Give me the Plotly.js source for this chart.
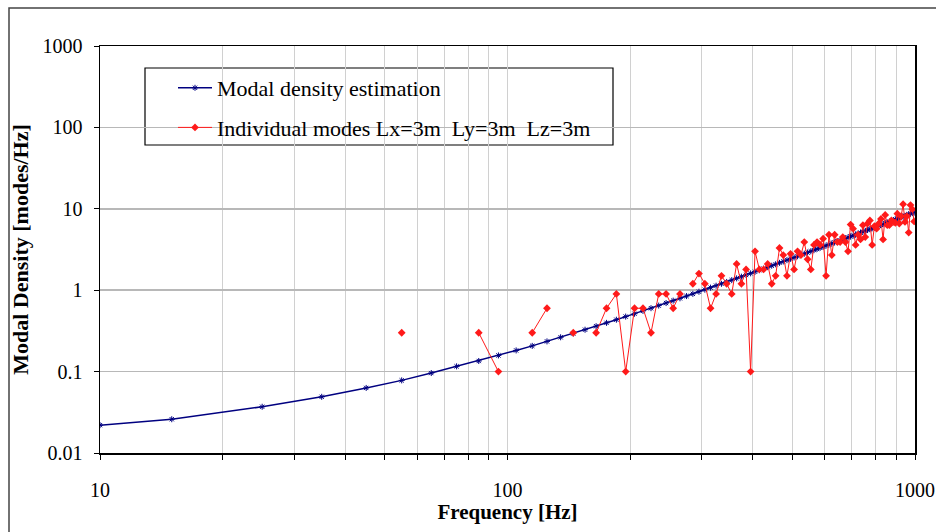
<!DOCTYPE html>
<html>
<head>
<meta charset="utf-8">
<script src="https://cdn.plot.ly/plotly-3.0.1.min.js"></script>
<style>html,body{margin:0;padding:0;background:#fff;}#chart{width:936px;height:532px;}</style>
</head>
<body>
<div id="chart"></div>
<script>
// Modal density estimation (blue)
var estFreq = [10,15,25,35,45,55,65,75,85,95,105,115,125,135,145,155,165,175,185,195,205,215,225,235,245,255,265,275,285,295,305,315,325,335,345,355,365,375,385,395,405,415,425,435,445,455,465,475,485,495,505,515,525,535,545,555,565,575,585,595,605,615,625,635,645,655,665,675,685,695,705,715,725,735,745,755,765,775,785,795,805,815,825,835,845,855,865,875,885,895,905,915,925,935,945,955,965,975,985,995];
var estDensity = [0.022,0.026,0.037,0.049,0.063,0.078,0.096,0.116,0.135,0.158,0.182,0.207,0.235,0.264,0.294,0.327,0.361,0.397,0.434,0.474,0.514,0.557,0.601,0.647,0.695,0.744,0.795,0.847,0.902,0.958,1.015,1.075,1.136,1.198,1.263,1.329,1.397,1.466,1.537,1.61,1.685,1.761,1.839,1.918,1.999,2.082,2.167,2.253,2.341,2.431,2.522,2.615,2.71,2.806,2.904,3.004,3.105,3.208,3.313,3.42,3.528,3.638,3.749,3.862,3.977,4.094,4.212,4.332,4.453,4.576,4.701,4.828,4.956,5.086,5.218,5.351,5.486,5.623,5.761,5.902,6.043,6.187,6.332,6.479,6.627,6.777,6.929,7.083,7.238,7.395,7.554,7.714,7.876,8.039,8.205,8.372,8.54,8.711,8.883,9.057];

// Individual modes (red), null where the band holds no mode
var modeFreq = [55,65,75,85,95,105,115,125,135,145,155,165,175,185,195,205,215,225,235,245,255,265,275,285,295,305,315,325,335,345,355,365,375,385,395,405,415,425,435,445,455,465,475,485,495,505,515,525,535,545,555,565,575,585,595,605,615,625,635,645,655,665,675,685,695,705,715,725,735,745,755,765,775,785,795,805,815,825,835,845,855,865,875,885,895,905,915,925,935,945,955,965,975,985,995];
var modeDensity = [0.3,null,null,0.3,0.1,null,0.3,0.6,null,0.3,null,0.3,0.6,0.9,0.1,0.6,0.6,0.3,0.9,0.9,0.6,0.9,null,1.2,1.6,1.2,0.6,0.9,1.5,1.2,0.9,2.1,1.2,1.8,0.1,3.0,1.8,1.8,2.1,1.2,1.5,3.3,2.7,1.5,2.8,1.8,3.0,2.7,3.9,2.4,1.8,3.6,3.9,3.6,4.3,1.5,4.8,2.7,4.8,3.9,3.9,4.5,3.9,3.0,6.4,5.7,3.6,4.8,4.2,6.3,4.5,6.6,7.2,3.6,6.1,5.7,6.6,7.5,4.2,8.4,6.3,6.3,7.2,6.9,6.7,8.7,6.6,8.1,11.4,6.9,8.1,5.1,11.1,9.9,7.0];

var seriesNames = ['Modal density estimation', 'Individual modes Lx=3m  Ly=3m  Lz=3m'];

var xTickVals = [10,20,30,40,50,60,70,80,90,100,200,300,400,500,600,700,800,900,1000];
var xTickText = ['10','','','','','','','','','100','','','','','','','','','1000'];
var yTickVals = [0.01,0.1,1,10,100,1000];
var yTickText = ['0.01','0.1','1','10','100','1000'];

var serif = 'Liberation Serif, Times New Roman, serif';

var traces = [
  {x: estFreq, y: estDensity, name: seriesNames[0], type: 'scatter', mode: 'lines+markers',
   line: {color: '#000080', width: 1.5},
   marker: {symbol: 'asterisk-open', size: 5, color: '#000080', line: {color: '#000080', width: 1}},
   legendgroup: 'a'},
  {x: modeFreq, y: modeDensity, name: seriesNames[1], type: 'scatter', mode: 'lines+markers',
   connectgaps: false,
   line: {color: '#ff1a1a', width: 1},
   marker: {symbol: 'diamond', size: 6, color: '#ff1a1a'},
   legendgroup: 'b'}
];

function px2x(p){ return (p - 100) / 815; }
function px2y(p){ return (453 - p) / 407; }

var layout = {
  width: 936, height: 532,
  margin: {l: 100, r: 21, t: 46, b: 79},
  paper_bgcolor: '#ffffff', plot_bgcolor: '#ffffff',
  showlegend: true,
  font: {family: serif, color: '#000'},
  xaxis: {
    type: 'log', range: [1, 3],
    tickmode: 'array', tickvals: xTickVals, ticktext: xTickText,
    ticks: 'outside', ticklen: 5, tickwidth: 1, tickcolor: '#000',
    ticklabelstandoff: 13,
    showline: true, linecolor: '#000', linewidth: 1.5, mirror: true,
    showgrid: true, gridcolor: '#d0d0d0', gridwidth: 1,
    zeroline: false,
    tickfont: {family: serif, size: 20, color: '#000'},
    title: {text: '<b>Frequency [Hz]</b>', font: {family: serif, size: 21, color: '#000'}, standoff: 2}
  },
  yaxis: {
    type: 'log', range: [-2, 3],
    tickmode: 'array', tickvals: yTickVals, ticktext: yTickText,
    ticks: 'outside', ticklen: 5, tickwidth: 1, tickcolor: '#000',
    ticklabelstandoff: 7,
    showline: true, linecolor: '#000', linewidth: 1.5, mirror: true,
    showgrid: true, gridcolor: '#b8b8b8', gridwidth: 1.5,
    zeroline: false,
    tickfont: {family: serif, size: 20, color: '#000'},
    title: {text: '<b>Modal Density [modes/Hz]</b>', font: {family: serif, size: 22, color: '#000'}, standoff: 8}
  },
  legend: {
    x: px2x(173), y: px2y(67), xanchor: 'left', yanchor: 'top',
    bgcolor: 'rgba(0,0,0,0)', borderwidth: 0,
    font: {family: serif, size: 22, color: '#000'},
    itemwidth: 34, tracegroupgap: 8, traceorder: 'grouped'
  },
  shapes: [
    {type: 'rect', xref: 'paper', yref: 'paper', layer: 'between',
     x0: px2x(145), x1: px2x(613), y0: px2y(68), y1: px2y(145),
     fillcolor: '#ffffff', line: {color: '#000', width: 1.2}},
    {type: 'rect', xref: 'paper', yref: 'paper', layer: 'below',
     x0: px2x(9), x1: px2x(960), y0: px2y(8), y1: px2y(560),
     fillcolor: 'rgba(0,0,0,0)', line: {color: '#444', width: 1.5}}
  ]
};

Plotly.newPlot('chart', traces, layout, {displayModeBar: false, staticPlot: true});
</script>
</body>
</html>
